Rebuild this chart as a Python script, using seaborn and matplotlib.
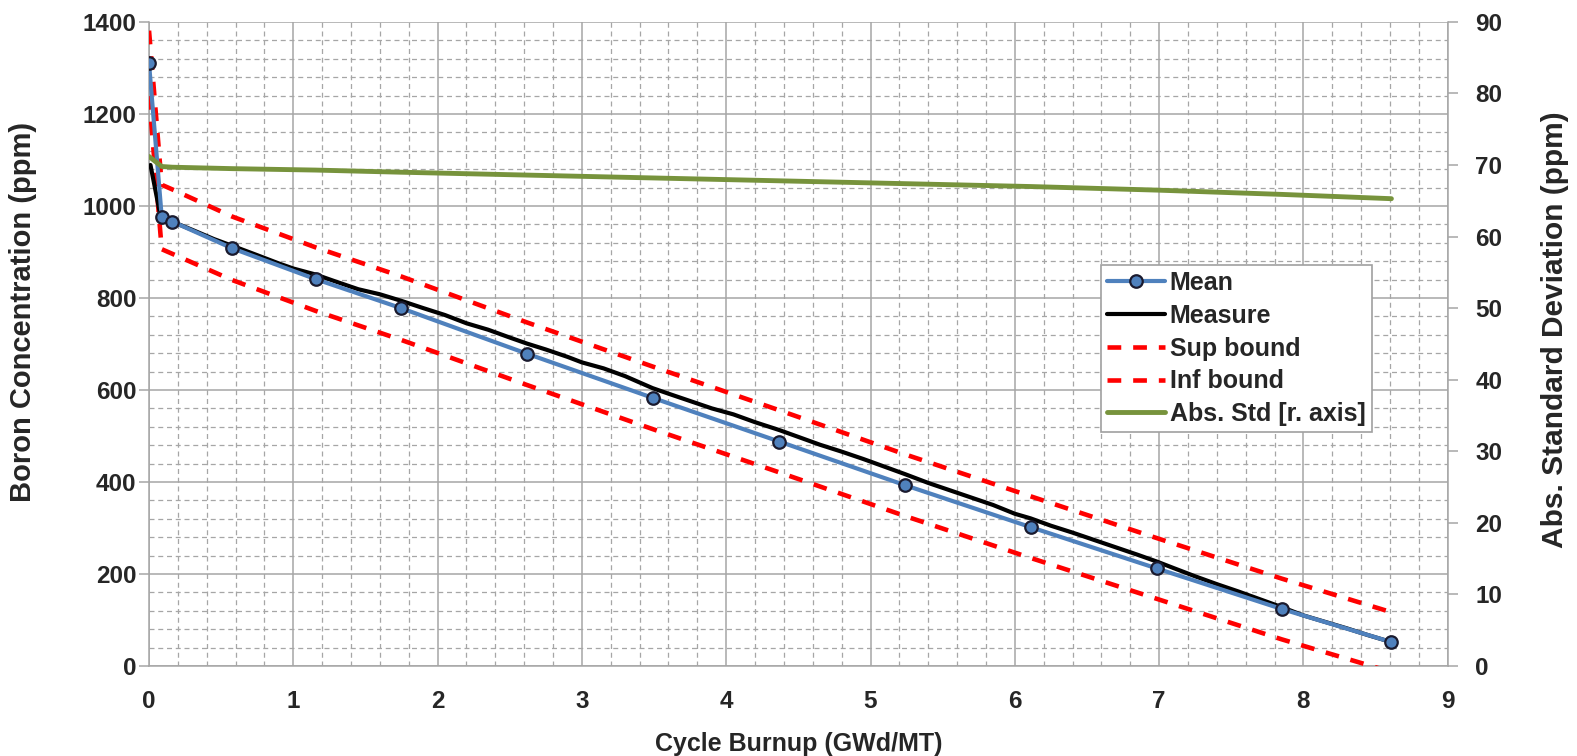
import matplotlib
matplotlib.use("Agg")
import matplotlib.pyplot as plt
from matplotlib.ticker import MultipleLocator
import seaborn as sns
import pandas as pd

# ---- data ----
mean_x = [0.0, 0.088, 0.161, 0.576, 1.154, 1.746, 2.618, 3.49, 4.367, 5.24, 6.109, 6.985, 7.85, 8.61]
mean_y = [1310, 976, 966, 908, 841, 778, 679, 583, 488, 393, 302, 212, 124, 52]
sup_y = [1381, 1046, 1036, 977, 910, 847, 747, 651, 556, 460, 369, 278, 190, 117]
inf_y = [1239, 906, 896, 839, 772, 709, 611, 515, 421, 326, 235, 146, 58, -13]
std_y = [71.2, 69.8, 69.7, 69.5, 69.3, 69.0, 68.6, 68.2, 67.8, 67.4, 67.0, 66.5, 65.9, 65.3]

meas_x = [0.01, 0.08, 0.16, 0.3, 0.45, 0.58, 0.75, 0.9, 1.0, 1.154, 1.3, 1.45, 1.6, 1.746,
          1.9, 2.05, 2.2, 2.35, 2.5, 2.618, 2.75, 2.9, 3.0, 3.15, 3.3, 3.49, 3.6, 3.75, 3.9,
          4.05, 4.2, 4.367, 4.5, 4.65, 4.8, 4.95, 5.1, 5.24, 5.4, 5.55, 5.7, 5.85, 6.0, 6.109,
          6.25, 6.4, 6.55, 6.7, 6.85, 6.985, 7.1, 7.25, 7.4, 7.55, 7.7, 7.85, 8.0, 8.15, 8.3,
          8.45, 8.61]
meas_y = [1089, 977, 966, 948, 928, 913, 893, 875, 864, 851, 835, 819, 808, 794,
          778, 763, 745, 731, 714, 701, 688, 672, 660, 647, 630, 604, 592, 576, 560,
          547, 530, 513, 498, 481, 466, 450, 433, 417, 398, 382, 366, 350, 331, 321,
          305, 290, 274, 258, 242, 227, 213, 195, 178, 162, 145, 128, 110, 96, 82,
          67, 52]

x_label = "Cycle Burnup (GWd/MT)"
y_label = "Boron Concentration (ppm)"
y2_label = "Abs. Standard Deviation (ppm)"

df = pd.DataFrame({"x": mean_x, "mean": mean_y, "sup": sup_y, "inf": inf_y, "std": std_y})
dm = pd.DataFrame({"x": meas_x, "meas": meas_y})

sns.set_style("white")
plt.rcParams["font.family"] = ["Liberation Sans", "DejaVu Sans"]
plt.rcParams["font.weight"] = "bold"
plt.rcParams["axes.labelweight"] = "bold"

fig = plt.figure(figsize=(15.77, 7.56), dpi=100)
ax = fig.add_axes([0.0945, 0.119, 0.8235, 0.852])

gcol = "#a6a6a6"
ax.xaxis.set_major_locator(MultipleLocator(1))
ax.xaxis.set_minor_locator(MultipleLocator(0.2))
ax.yaxis.set_major_locator(MultipleLocator(200))
ax.yaxis.set_minor_locator(MultipleLocator(40))
ax.grid(which="major", color=gcol, lw=1.1, ls="-")
ax.grid(which="minor", color=gcol, lw=0.9, ls=(0, (4, 3)))
ax.set_axisbelow(True)

red_dash = (3.0, 2.6)
sns.lineplot(data=df, x="x", y="sup", ax=ax, color="#FF0000", lw=3.3, sort=False,
             estimator=None, label="Sup bound", zorder=3)
ax.lines[-1].set_dashes(red_dash)
sns.lineplot(data=df, x="x", y="inf", ax=ax, color="#FF0000", lw=3.3, sort=False,
             estimator=None, label="Inf bound", zorder=3)
ax.lines[-1].set_dashes(red_dash)
sns.lineplot(data=dm, x="x", y="meas", ax=ax, color="black", lw=3.0, sort=False,
             estimator=None, label="Measure", zorder=4)
sns.lineplot(data=df, x="x", y="mean", ax=ax, color="#4F81BD", lw=3.0, sort=False,
             estimator=None, label="Mean", marker="o", markersize=9,
             markerfacecolor="#4F81BD", markeredgecolor="#1a1a2e", markeredgewidth=1.6,
             zorder=5)

ax.set_xlim(0, 9)
ax.set_ylim(0, 1400)
ax.set_xlabel(x_label, fontsize=18, fontweight="bold", labelpad=14)
ax.set_ylabel(y_label, fontsize=21, fontweight="bold")
ax.yaxis.set_label_coords(-0.086, 0.55)
ax.tick_params(axis="x", which="major", labelsize=17.5, length=7, width=1.1,
               color=gcol, direction="out", pad=10)
ax.tick_params(axis="y", which="major", labelsize=17.5, length=7, width=1.1,
               color=gcol, direction="out", pad=2)
ax.tick_params(which="minor", length=0)
for s in ["left", "bottom"]:
    ax.spines[s].set_color(gcol)
    ax.spines[s].set_linewidth(1.1)
for s in ["top", "right"]:
    ax.spines[s].set_visible(False)

ax2 = ax.twinx()
sns.lineplot(data=df, x="x", y="std", ax=ax2, color="#77933C", lw=3.5, sort=False,
             estimator=None, label="Abs. Std [r. axis]", zorder=6)
ax2.set_ylim(0, 90)
ax2.yaxis.set_major_locator(MultipleLocator(10))
ax2.set_ylabel(y2_label, fontsize=21.5, fontweight="bold")
ax2.yaxis.set_label_coords(1.072, 0.522)
ax2.tick_params(axis="y", labelsize=17.5, length=7, width=1.1, color=gcol, direction="out", pad=13)
for s in ["top", "left", "bottom"]:
    ax2.spines[s].set_visible(False)
ax2.spines["right"].set_color(gcol)
ax2.spines["right"].set_linewidth(1.1)
for lab in ax.get_xticklabels() + ax.get_yticklabels() + ax2.get_yticklabels():
    lab.set_fontweight("bold")

h1, l1 = ax.get_legend_handles_labels()
h2, l2 = ax2.get_legend_handles_labels()
ax.get_legend().remove()
ax2.get_legend().remove()
hmap = dict(zip(l1 + l2, h1 + h2))
order = ["Mean", "Measure", "Sup bound", "Inf bound", "Abs. Std [r. axis]"]
leg = ax2.legend([hmap[k] for k in order], order, loc="upper left",
                 bbox_to_anchor=(1101 / 1577, 1 - 265 / 756), bbox_transform=fig.transFigure,
                 prop={"size": 18, "weight": "bold"}, frameon=True, fancybox=False,
                 edgecolor="#a0a0a0", framealpha=1, handlelength=2.3, handletextpad=0.2,
                 labelspacing=0.35, borderpad=0.25, borderaxespad=0)
leg.get_frame().set_linewidth(1.2)

fig.savefig("out.png", dpi=100)
